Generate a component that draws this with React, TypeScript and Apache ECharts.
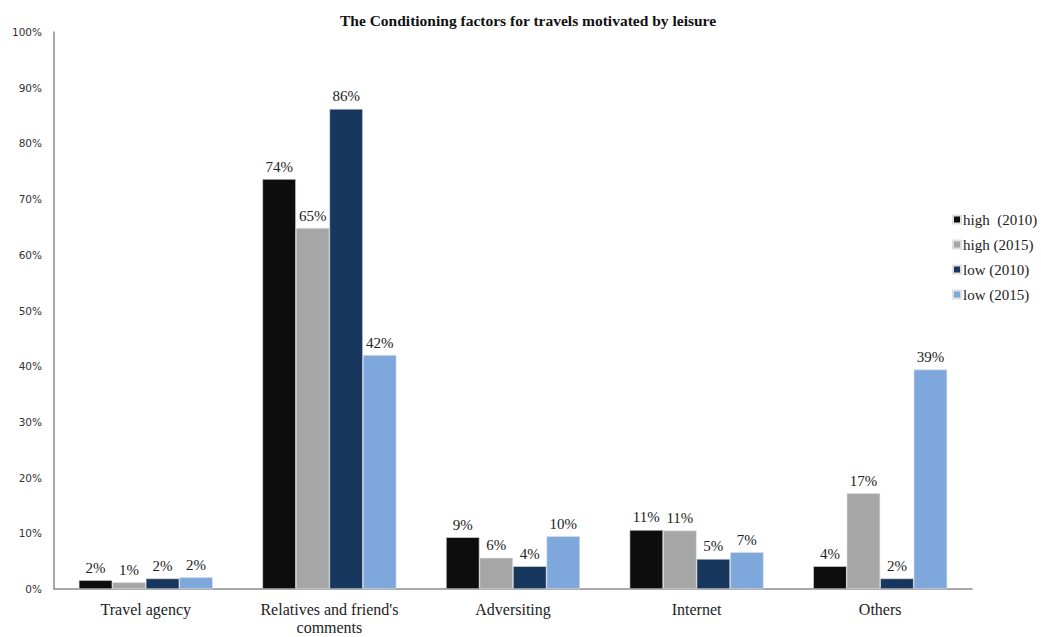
import React, { useEffect, useRef } from "react";
import * as echarts from "echarts";

const categories = ["Travel agency", "Relatives and friend's\ncomments", "Adversiting", "Internet", "Others"];
const seriesNames = ["high  (2010)", "high (2015)", "low (2010)", "low (2015)"];
const high2010 = [1.6, 73.6, 9.3, 10.6, 4.1];
const high2015 = [1.2, 64.8, 5.6, 10.5, 17.2];
const low2010 = [1.9, 86.2, 4.1, 5.4, 1.9];
const low2015 = [2.1, 42.0, 9.5, 6.6, 39.4];
const colors = ["#0d0d0d", "#a6a6a6", "#17375e", "#7ea8dc"];
const yTicks = [0, 10, 20, 30, 40, 50, 60, 70, 80, 90, 100];

export default function App() {
  const ref = useRef<HTMLDivElement>(null);
  useEffect(() => {
    if (!ref.current) return;
    const chart = echarts.init(ref.current, undefined, { renderer: "svg" });
    const data = [high2010, high2015, low2010, low2015];
    chart.setOption({
      animation: false,
      title: {
        text: "The Conditioning factors for travels motivated by leisure",
        left: 523,
        textAlign: "center",
        top: 7,
        textStyle: { fontFamily: "Liberation Serif", fontSize: 15.5, fontWeight: "bold", color: "#111" },
      },
      legend: {
        orient: "vertical",
        left: 947,
        top: 207,
        itemWidth: 8,
        itemHeight: 8,
        itemGap: 10,
        icon: "rect",
        data: seriesNames,
        textStyle: { fontFamily: "Liberation Serif", fontSize: 15, color: "#222", padding: [0, 0, 0, -3] },
      },
      grid: { left: 54, right: 69, top: 32, bottom: 48, containLabel: false },
      xAxis: {
        type: "category",
        data: categories,
        axisLine: { lineStyle: { color: "#8c8c8c", width: 1.5 } },
        axisTick: { show: false },
        axisLabel: {
          fontFamily: "Liberation Serif",
          fontSize: 16,
          color: "#222",
          margin: 11,
          lineHeight: 18,
          interval: 0,
        },
      },
      yAxis: {
        type: "value",
        min: 0,
        max: 100,
        interval: 10,
        splitLine: { show: false },
        axisLine: { show: true, lineStyle: { color: "#8c8c8c", width: 1.5 } },
        axisTick: { show: false },
        axisLabel: {
          fontFamily: "DejaVu Sans",
          fontSize: 10.5,
          color: "#333",
          margin: 12,
          formatter: (v: number) => (yTicks.includes(v) ? v + "%" : ""),
        },
      },
      series: data.map((d, i) => ({
        name: seriesNames[i],
        type: "bar",
        data: d,
        barGap: "0%",
        barCategoryGap: "27%",
        itemStyle: { color: colors[i], borderColor: "#e0e0e0", borderWidth: 0.6 },
        label: {
          show: true,
          position: "top",
          distance: 5,
          fontFamily: "Liberation Serif",
          fontSize: 15,
          color: "#222",
          formatter: (p: any) => Math.round(p.value) + "%",
        },
      })),
    });
    return () => chart.dispose();
  }, []);
  return <div ref={ref} style={{ width: 1041, height: 637, position: "absolute", left: 0, top: 0 }} />;
}
